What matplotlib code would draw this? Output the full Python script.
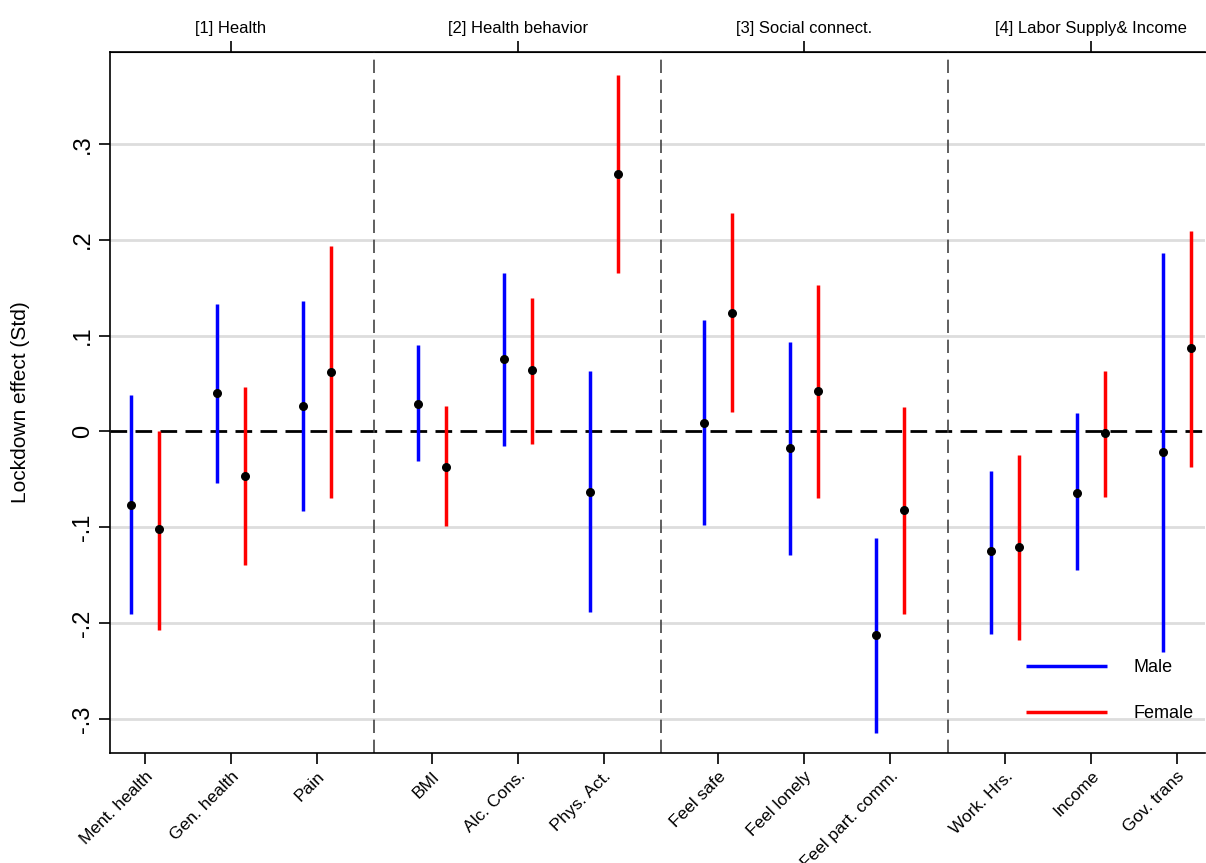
import matplotlib.pyplot as plt
import numpy as np

plt.rcParams['font.family'] = ['Liberation Sans', 'DejaVu Sans']

labels = ['Ment. health', 'Gen. health', 'Pain', 'BMI', 'Alc. Cons.', 'Phys. Act.',
          'Feel safe', 'Feel lonely', 'Feel part. comm.', 'Work. Hrs.', 'Income', 'Gov. trans']
groups = ['[1] Health', '[2] Health behavior', '[3] Social connect.', '[4] Labor Supply& Income']

male_est = [-0.077, 0.040, 0.026, 0.029, 0.075, -0.063, 0.009, -0.017, -0.212, -0.125, -0.064, -0.022]
male_lo = [-0.191, -0.054, -0.083, -0.031, -0.015, -0.188, -0.098, -0.129, -0.315, -0.211, -0.145, -0.230]
male_hi = [0.038, 0.133, 0.136, 0.090, 0.165, 0.063, 0.116, 0.093, -0.111, -0.041, 0.019, 0.186]
fem_est = [-0.102, -0.047, 0.062, -0.037, 0.064, 0.269, 0.123, 0.042, -0.082, -0.121, -0.002, 0.087]
fem_lo = [-0.207, -0.139, -0.069, -0.099, -0.013, 0.165, 0.020, -0.070, -0.190, -0.218, -0.068, -0.037]
fem_hi = [0.000, 0.046, 0.193, 0.027, 0.139, 0.372, 0.228, 0.153, 0.025, -0.025, 0.063, 0.209]

gap = 0.335
pos = np.array([i + (i // 3) * gap for i in range(len(labels))])
off = 0.163

fig = plt.figure(figsize=(12.06, 8.63), dpi=100)
ax = fig.add_axes([0.091, 0.128, 0.908, 0.812])

for y in [-0.3, -0.2, -0.1, 0.1, 0.2, 0.3]:
    ax.axhline(y, color='#dddddd', lw=2, zorder=0)
ax.axhline(0, color='black', lw=2, ls=(0, (6, 3)), zorder=1)
for g in range(1, 4):
    ax.axvline((pos[3 * g - 1] + pos[3 * g]) / 2, color='#444444', lw=1.2, ls=(0, (8, 4)), zorder=1)

ax.vlines(pos - off, male_lo, male_hi, color='blue', lw=2.5, label='Male', zorder=2)
ax.vlines(pos + off, fem_lo, fem_hi, color='red', lw=2.5, label='Female', zorder=2)
ax.scatter(pos - off, male_est, color='black', s=30, zorder=3)
ax.scatter(pos + off, fem_est, color='black', s=30, zorder=3)

ax.set_xlim(-0.41, 12.33)
ax.set_ylim(-0.335, 0.396)
ax.set_yticks([-0.3, -0.2, -0.1, 0, 0.1, 0.2, 0.3])
ax.set_yticklabels(['-.3', '-.2', '-.1', '0', '.1', '.2', '.3'], rotation=90, va='center', fontsize=17)
ax.set_ylabel('Lockdown effect (Std)', fontsize=15, labelpad=30)
ax.set_xticks(pos)
ax.set_xticklabels(labels, rotation=45, ha='right', rotation_mode='anchor', fontsize=12.5)
ax.tick_params(length=8, width=1.2)
ax.spines['right'].set_visible(False)
for s in ['left', 'bottom', 'top']:
    ax.spines[s].set_linewidth(1.2)

top = ax.secondary_xaxis('top')
top.set_xticks([pos[1], pos[4], pos[7], pos[10]])
top.set_xticklabels(groups, fontsize=12)
top.tick_params(length=8, width=1.2)

ax.legend(loc='lower right', bbox_to_anchor=(1.005, 0.02), frameon=False, fontsize=13,
          handlelength=4.5, labelspacing=1.6, handletextpad=1.5)

fig.savefig('out.png')
